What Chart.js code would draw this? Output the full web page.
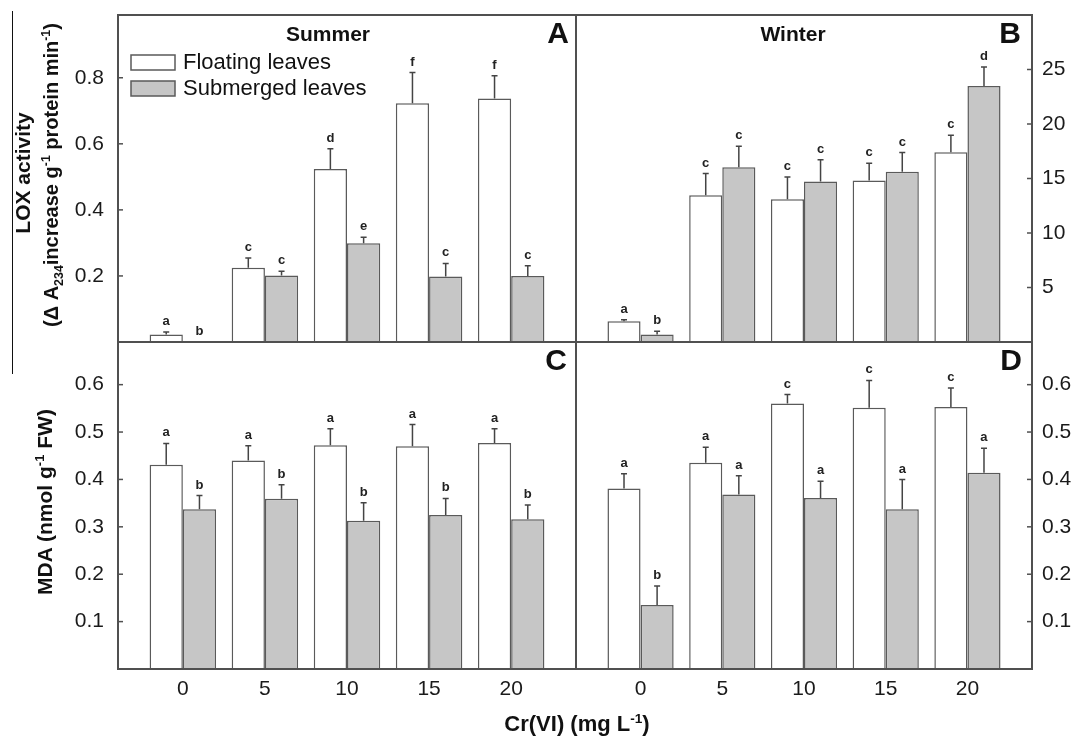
<!DOCTYPE html>
<html>
<head>
<meta charset="utf-8">
<script src="https://cdn.jsdelivr.net/npm/chart.js@4.4.1/dist/chart.umd.min.js"></script>
<style>
  body { margin: 0; background: #fff; }
  #fig { position: relative; width: 1075px; height: 738px; overflow: hidden;
         font-family: "Liberation Sans", Arial, sans-serif; color: #111; }
  .panel { position: absolute; }
  .title { position: absolute; white-space: nowrap; font-weight: bold; transform: translate(-50%, -50%); }
  .rot { transform: translate(-50%, -50%) rotate(-90deg); }
  .title sup, .title sub { font-size: 62%; line-height: 0; }
  #edge { position: absolute; left: 12px; top: 11px; height: 363px; border-left: 1.5px solid #111; }
</style>
</head>
<body>
<div id="fig">
  <div id="edge"></div>
  <div class="panel" style="left:0;top:0;width:577px;height:343px"><canvas id="pA"></canvas></div>
  <div class="panel" style="left:575px;top:0;width:500px;height:343px"><canvas id="pB"></canvas></div>
  <div class="panel" style="left:0;top:341px;width:577px;height:397px"><canvas id="pC"></canvas></div>
  <div class="panel" style="left:575px;top:341px;width:500px;height:397px"><canvas id="pD"></canvas></div>

  <div class="title rot" style="left:23px;top:173px;font-size:21px">LOX activity</div>
  <div class="title rot" style="left:51px;top:175px;font-size:20px">(&Delta; A<sub>234</sub>increase g<sup>-1</sup> protein min<sup>-1</sup>)</div>
  <div class="title rot" style="left:45px;top:502px;font-size:21px">MDA (nmol g<sup>-1</sup> FW)</div>
  <div class="title" style="left:577px;top:724px;font-size:22px">Cr(VI) (mg L<sup>-1</sup>)</div>
</div>

<script>
// Cr(VI) doses and their slot on the x axis
const doses = ['0', '5', '10', '15', '20'];
const slots = [1, 2, 3, 4, 5];

// A: LOX, summer
const loxSumFloat = [0.023, 0.225, 0.524, 0.723, 0.737];
const loxSumFloatSd = [0.007, 0.029, 0.061, 0.093, 0.069];
const loxSumFloatLet = ['a', 'c', 'd', 'f', 'f'];
const loxSumSub = [0, 0.201, 0.299, 0.198, 0.200];
const loxSumSubSd = [0, 0.013, 0.018, 0.040, 0.031];
const loxSumSubLet = ['b', 'c', 'e', 'c', 'c'];

// B: LOX, winter
const loxWinFloat = [1.90, 13.46, 13.09, 14.81, 17.40];
const loxWinFloatSd = [0.15, 2.0, 2.05, 1.6, 1.56];
const loxWinFloatLet = ['a', 'c', 'c', 'c', 'c'];
const loxWinSub = [0.68, 16.03, 14.72, 15.63, 23.49];
const loxWinSubSd = [0.30, 1.92, 2.0, 1.75, 1.74];
const loxWinSubLet = ['b', 'c', 'c', 'c', 'd'];

// C: MDA, summer
const mdaSumFloat = [0.431, 0.440, 0.472, 0.470, 0.477];
const mdaSumFloatSd = [0.045, 0.031, 0.035, 0.046, 0.030];
const mdaSumFloatLet = ['a', 'a', 'a', 'a', 'a'];
const mdaSumSub = [0.337, 0.359, 0.313, 0.325, 0.316];
const mdaSumSubSd = [0.029, 0.030, 0.038, 0.035, 0.030];
const mdaSumSubLet = ['b', 'b', 'b', 'b', 'b'];

// D: MDA, winter
const mdaWinFloat = [0.381, 0.435, 0.560, 0.551, 0.553];
const mdaWinFloatSd = [0.031, 0.033, 0.019, 0.058, 0.040];
const mdaWinFloatLet = ['a', 'a', 'c', 'c', 'c'];
const mdaWinSub = [0.135, 0.368, 0.361, 0.337, 0.414];
const mdaWinSubSd = [0.040, 0.040, 0.035, 0.063, 0.052];
const mdaWinSubLet = ['b', 'a', 'a', 'a', 'a'];

// tick labels
const loxSumTicks = [0.2, 0.4, 0.6, 0.8];
const loxWinTicks = [5, 10, 15, 20, 25];
const mdaTicks = [0.1, 0.2, 0.3, 0.4, 0.5, 0.6];

const FONT = '"Liberation Sans", Arial, sans-serif';
Chart.defaults.font.family = FONT;

// error bars, letters, inward ticks, frame, panel titles, legend
const panelDecor = {
  id: 'panelDecor',
  afterDatasetsDraw(chart, args, o) {
    const ctx = chart.ctx, a = chart.chartArea, ys = chart.scales.y;
    ctx.save();

    ctx.strokeStyle = '#444';
    ctx.lineWidth = 1.5;
    ctx.fillStyle = '#222';
    ctx.font = 'bold 13px ' + FONT;
    ctx.textAlign = 'center';
    ctx.textBaseline = 'bottom';
    chart.data.datasets.forEach((ds, di) => {
      chart.getDatasetMeta(di).data.forEach((bar, i) => {
        const top = ys.getPixelForValue(ds.data[i].y + ds.sd[i]);
        if (ds.sd[i] > 0) {
          ctx.beginPath();
          ctx.moveTo(bar.x, bar.y);
          ctx.lineTo(bar.x, top);
          ctx.moveTo(bar.x - 3, top);
          ctx.lineTo(bar.x + 3, top);
          ctx.stroke();
        }
        ctx.fillText(ds.letters[i], bar.x, top - 4);
      });
    });

    // ticks point into the plot
    ctx.strokeStyle = '#505050';
    ctx.lineWidth = 1.5;
    ys.ticks.forEach(t => {
      const py = ys.getPixelForValue(t.value);
      ctx.beginPath();
      if (o.side === 'left') { ctx.moveTo(a.left, py); ctx.lineTo(a.left + 5, py); }
      else { ctx.moveTo(a.right - 5, py); ctx.lineTo(a.right, py); }
      ctx.stroke();
    });

    ctx.lineWidth = 2;
    ctx.strokeRect(a.left, a.top, a.right - a.left, a.bottom - a.top);

    ctx.fillStyle = '#111';
    ctx.textBaseline = 'middle';
    if (o.title) {
      ctx.font = 'bold 21px ' + FONT;
      ctx.fillText(o.title, a.left + o.titleX, a.top + 20);
    }
    ctx.font = 'bold 30px ' + FONT;
    ctx.fillText(o.letter, a.right + o.letterX, a.top + 20);

    if (o.legend) {
      chart.data.datasets.forEach((ds, di) => {
        const lx = a.left + 13, ly = a.top + 40 + di * 26;
        ctx.fillStyle = ds.backgroundColor;
        ctx.fillRect(lx, ly, 44, 15);
        ctx.strokeStyle = '#5a5a5a';
        ctx.lineWidth = 1.5;
        ctx.strokeRect(lx, ly, 44, 15);
        ctx.fillStyle = '#111';
        ctx.font = '22px ' + FONT;
        ctx.textAlign = 'left';
        ctx.fillText(ds.label, lx + 52, ly + 8);
      });
    }
    ctx.restore();
  }
};

function makePanel(id, p) {
  const sets = [
    { label: 'Floating leaves', vals: p.fl, sd: p.flSd, letters: p.flLet, fill: '#ffffff' },
    { label: 'Submerged leaves', vals: p.sub, sd: p.subSd, letters: p.subLet, fill: '#c6c6c6' }
  ];
  return new Chart(document.getElementById(id), {
    type: 'bar',
    data: {
      datasets: sets.map(s => ({
        label: s.label,
        data: slots.map((x, i) => ({ x: x, y: s.vals[i] })),
        sd: s.sd,
        letters: s.letters,
        backgroundColor: s.fill,
        borderColor: '#5a5a5a',
        borderWidth: 1.5,
        categoryPercentage: 0.81,
        barPercentage: 1.0
      }))
    },
    options: {
      responsive: true,
      maintainAspectRatio: false,
      animation: false,
      layout: { padding: p.pad },
      plugins: {
        legend: { display: false },
        tooltip: { enabled: false },
        panelDecor: p.decor
      },
      scales: {
        x: {
          type: 'linear', min: 0.21, max: 5.79, offset: false, display: p.showX,
          grid: { display: false, drawTicks: false }, border: { display: false },
          afterBuildTicks: s => { s.ticks = slots.map(v => ({ value: v })); },
          afterFit: s => {
            s.height = p.showX ? 69 : 0;
            s.paddingLeft = 0; s.paddingRight = 0;
          },
          ticks: { callback: v => doses[v - 1], padding: 8, font: { size: 21 }, color: '#1a1a1a',
                   autoSkip: false, maxRotation: 0 }
        },
        y: {
          position: p.decor.side, min: 0, max: p.max,
          grid: { display: false, drawTicks: false }, border: { display: false },
          afterBuildTicks: s => { s.ticks = p.ticks.map(v => ({ value: v })); },
          afterFit: s => {
            s.width = p.yWidth;
            s.paddingTop = 0; s.paddingBottom = 0;
          },
          ticks: { callback: p.fmt, padding: p.decor.side === 'left' ? 14 : 10,
                   font: { size: 21 }, color: '#1a1a1a' }
        }
      }
    },
    plugins: [panelDecor]
  });
}

const oneDec = v => v.toFixed(1);

makePanel('pA', {
  fl: loxSumFloat, flSd: loxSumFloatSd, flLet: loxSumFloatLet,
  sub: loxSumSub, subSd: loxSumSubSd, subLet: loxSumSubLet,
  max: 0.99, ticks: loxSumTicks, fmt: oneDec, showX: false, yWidth: 118,
  pad: { top: 15, right: 1, bottom: 1, left: 0 },
  decor: { side: 'left', title: 'Summer', titleX: 210, letter: 'A', letterX: -18, legend: true }
});
makePanel('pB', {
  fl: loxWinFloat, flSd: loxWinFloatSd, flLet: loxWinFloatLet,
  sub: loxWinSub, subSd: loxWinSubSd, subLet: loxWinSubLet,
  max: 30, ticks: loxWinTicks, fmt: v => String(v), showX: false, yWidth: 43,
  pad: { top: 15, right: 0, bottom: 1, left: 1 },
  decor: { side: 'right', title: 'Winter', titleX: 217, letter: 'B', letterX: -22 }
});
makePanel('pC', {
  fl: mdaSumFloat, flSd: mdaSumFloatSd, flLet: mdaSumFloatLet,
  sub: mdaSumSub, subSd: mdaSumSubSd, subLet: mdaSumSubLet,
  max: 0.69, ticks: mdaTicks, fmt: oneDec, showX: true, yWidth: 118,
  pad: { top: 1, right: 1, bottom: 0, left: 0 },
  decor: { side: 'left', letter: 'C', letterX: -20 }
});
makePanel('pD', {
  fl: mdaWinFloat, flSd: mdaWinFloatSd, flLet: mdaWinFloatLet,
  sub: mdaWinSub, subSd: mdaWinSubSd, subLet: mdaWinSubLet,
  max: 0.69, ticks: mdaTicks, fmt: oneDec, showX: true, yWidth: 43,
  pad: { top: 1, right: 0, bottom: 0, left: 1 },
  decor: { side: 'right', letter: 'D', letterX: -21 }
});
</script>
</body>
</html>
